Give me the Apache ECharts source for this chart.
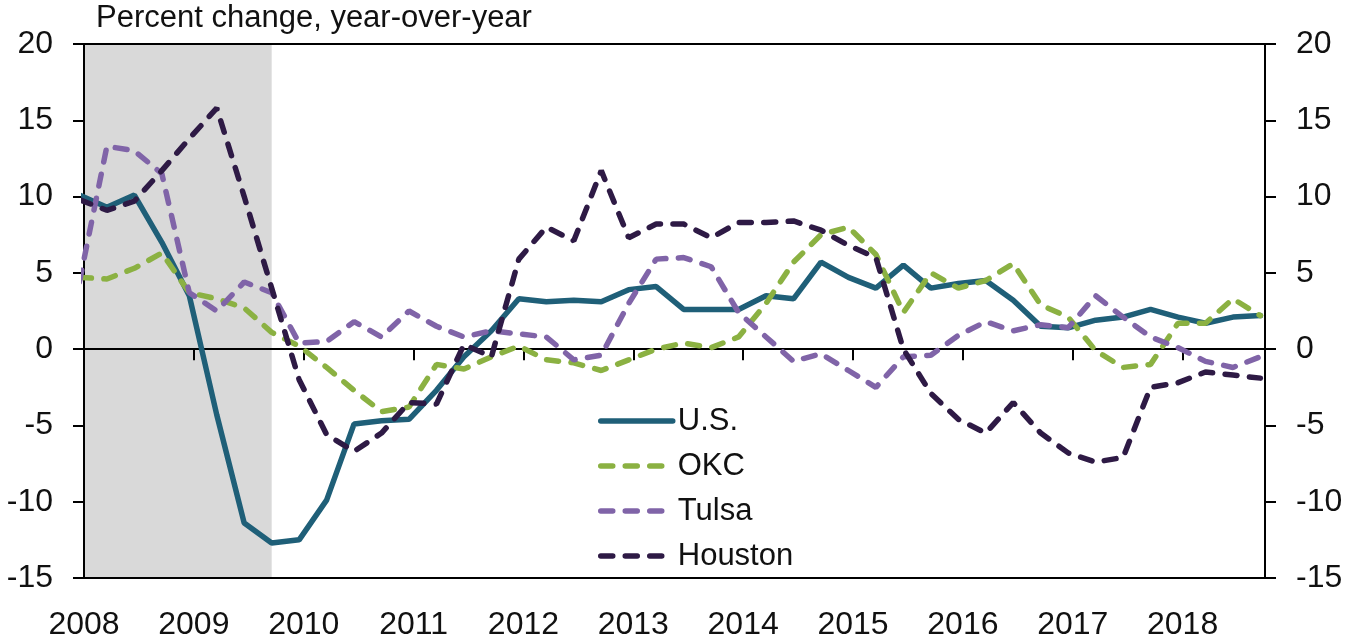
<!DOCTYPE html>
<html>
<head>
<meta charset="utf-8">
<title>Percent change, year-over-year</title>
<script src="https://cdn.jsdelivr.net/npm/echarts@6/dist/echarts.min.js"></script>
<style>
  html, body { margin: 0; padding: 0; background: #fff; }
  #chart { width: 1351px; height: 641px; }
</style>
</head>
<body>
<div id="chart"></div>
<script>
// quarterly data, plotted at the middle of the quarter's last month
const quarters = [
  '2007Q4',
  '2008Q1', '2008Q2', '2008Q3', '2008Q4', '2009Q1', '2009Q2', '2009Q3', '2009Q4',
  '2010Q1', '2010Q2', '2010Q3', '2010Q4', '2011Q1', '2011Q2', '2011Q3', '2011Q4',
  '2012Q1', '2012Q2', '2012Q3', '2012Q4', '2013Q1', '2013Q2', '2013Q3', '2013Q4',
  '2014Q1', '2014Q2', '2014Q3', '2014Q4', '2015Q1', '2015Q2', '2015Q3', '2015Q4',
  '2016Q1', '2016Q2', '2016Q3', '2016Q4', '2017Q1', '2017Q2', '2017Q3', '2017Q4',
  '2018Q1', '2018Q2', '2018Q3'
]
const us = [10.1, 9.3, 10.1, 7.0, 3.5, -4.3, -11.4, -12.7, -12.5, -9.9, -4.9, -4.7, -4.6, -2.7, -0.5, 1.2, 3.3,
  3.1, 3.2, 3.1, 3.9, 4.1, 2.6, 2.6, 2.6, 3.5, 3.3, 5.7, 4.7, 4.0, 5.5, 4.0, 4.3, 4.5, 3.2, 1.5, 1.4, 1.9, 2.1,
  2.6, 2.1, 1.7, 2.1, 2.2]
const okc = [4.7, 4.6, 5.3, 6.3, 3.7, 3.3, 2.7, 1.1, 0.2, -1.2, -2.7, -4.1, -3.8, -1.0, -1.3, -0.5, 0.2,
  -0.7, -0.9, -1.4, -0.7, 0.0, 0.4, 0.1, 0.8, 3.0, 5.7, 7.5, 8.0, 6.2, 2.4, 5.0, 4.0, 4.5, 5.6, 2.9, 2.1, -0.1, -1.2,
  -1.0, 1.7, 1.7, 3.3, 2.2]
const tulsa = [4.4, 13.3, 13.0, 11.5, 3.7, 2.5, 4.4, 3.7, 0.4, 0.5, 1.8, 0.8, 2.5, 1.5, 0.8, 1.2, 1.0,
  0.8, -0.7, -0.4, 3.0, 5.9, 6.0, 5.4, 2.4, 0.8, -0.8, -0.3, -1.4, -2.5, -0.5, -0.4, 0.9, 1.8, 1.2, 1.6, 1.4, 3.5, 2.1,
  0.8, 0.1, -0.8, -1.2, -0.5]
const houston = [9.8, 9.1, 9.7, 11.7, 13.8, 15.8, 10.0, 4.0, -2.0, -5.6, -6.7, -5.5, -3.5, -3.6, 0.3, -0.5, 5.9,
  8.0, 7.1, 11.7, 7.3, 8.2, 8.2, 7.3, 8.3, 8.3, 8.4, 7.8, 6.8, 6.0, 0.0, -2.9, -4.6, -5.5, -3.5, -5.5, -6.8, -7.4, -7.1,
  -2.5, -2.2, -1.5, -1.7, -1.9]
const recession = ['2007Q4', '2009Q3']
const yTicks = [-15, -10, -5, 0, 5, 10, 15, 20]

const font = "'Liberation Sans', Arial, sans-serif"

function qx(q) {
  let y = parseInt(q.slice(0, 4))
  let n = parseInt(q.slice(5))
  return y + (3 * n - 0.5) / 12
}
function pairs(vals) {
  return vals.map((v, i) => [qx(quarters[i]), v])
}

let mycharts = echarts.init(document.getElementById('chart'))

const yAxisBase = {
  type: 'value',
  min: yTicks[0],
  max: yTicks[yTicks.length - 1],
  interval: 5,
  z: 2,
  splitLine: { show: false },
  axisLine: { show: true, lineStyle: { color: '#000', width: 2 } },
  axisTick: { show: true, inside: false, length: 11, lineStyle: { color: '#000', width: 2 } },
  axisLabel: { color: '#111', fontSize: 32, fontFamily: font, margin: 31 },
}

function dashed(name, data, color) {
  return {
    name: name,
    type: 'line',
    data: pairs(data),
    symbol: 'none',
    z: 3,
    lineStyle: { color: color, width: 5.5, type: [12, 12.5], cap: 'round' },
    itemStyle: { color: color },
  }
}

mycharts.setOption({
  animation: false,
  title: {
    text: 'Percent change, year-over-year',
    left: 96,
    top: 3,
    padding: 0,
    textStyle: { color: '#111', fontSize: 31, fontWeight: 'normal', fontFamily: font },
  },
  grid: { left: 84, right: 86, top: 44, bottom: 63 },
  legend: {
    orient: 'vertical',
    left: 598,
    top: 403,
    padding: 0,
    itemWidth: 72,
    itemHeight: 10,
    itemGap: 9,
    selectedMode: false,
    itemStyle: { opacity: 0 },
    lineStyle: { width: 5.5, cap: 'round' },
    textStyle: { color: '#111', fontSize: 31, fontFamily: font, lineHeight: 36 },
    data: ['U.S.', 'OKC', 'Tulsa', 'Houston'],
  },
  xAxis: [
    {
      // zero line with year ticks
      type: 'value', min: 2008, max: 2018.75, interval: 1, z: 2,
      axisLine: { show: true, onZero: true, lineStyle: { color: '#000', width: 2 } },
      axisTick: { show: true, inside: false, length: 11, lineStyle: { color: '#000', width: 2 } },
      axisLabel: { show: false },
      splitLine: { show: false },
    },
    {
      // bottom line with year labels
      type: 'value', min: 2008, max: 2018.75, interval: 1, position: 'bottom', z: 2,
      axisLine: { show: true, onZero: false, lineStyle: { color: '#000', width: 2 } },
      axisTick: { show: false },
      axisLabel: {
        color: '#111', fontSize: 32, fontFamily: font, margin: 31, showMaxLabel: false,
        formatter: v => (Number.isInteger(v) ? String(v) : ''),
      },
      splitLine: { show: false },
    },
    {
      // top border
      type: 'value', min: 2008, max: 2018.75, position: 'top', z: 2,
      axisLine: { show: true, onZero: false, lineStyle: { color: '#000', width: 2 } },
      axisTick: { show: false },
      axisLabel: { show: false },
      splitLine: { show: false },
    },
  ],
  yAxis: [
    Object.assign({}, yAxisBase, { position: 'left' }),
    Object.assign({}, yAxisBase, { position: 'right' }),
  ],
  series: [
    {
      // recession shading
      type: 'line',
      data: [],
      z: 1,
      silent: true,
      markArea: {
        silent: true,
        itemStyle: { color: '#d9d9d9' },
        data: [[{ xAxis: qx(recession[0]) }, { xAxis: qx(recession[1]) }]],
      },
    },
    {
      name: 'U.S.',
      type: 'line',
      data: pairs(us),
      symbol: 'none',
      z: 3,
      lineStyle: { color: '#1f5f78', width: 5.5, cap: 'round' },
      itemStyle: { color: '#1f5f78' },
    },
    dashed('OKC', okc, '#8bb142'),
    dashed('Tulsa', tulsa, '#8064a8'),
    dashed('Houston', houston, '#2e1a45'),
  ],
})
</script>
</body>
</html>
